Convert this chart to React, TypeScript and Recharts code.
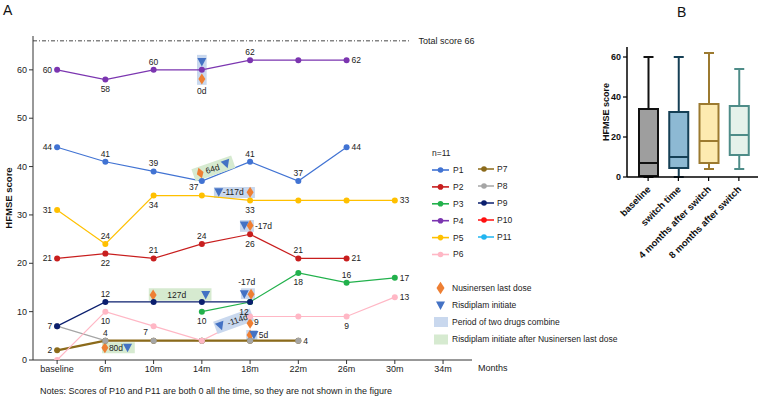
import React from 'react';
import {
  ComposedChart,
  Line,
  XAxis,
  YAxis,
  ReferenceArea,
  ReferenceDot,
  ReferenceLine,
  LabelList,
  Bar,
  Legend,
  Label,
} from 'recharts';

const FONT = '"Liberation Sans", Arial, Helvetica, sans-serif';
const TXT = '#222';
const DOSE_COLOR = '#ee7f33';
const RIS_COLOR = '#4472c4';
const OVERLAP_FILL = '#c9d8ee';
const GAP_FILL = '#d6ead0';

// ---- Panel A: HFMSE score per patient over visits ----
const months = ['baseline', '6m', '10m', '14m', '18m', '22m', '26m', '30m', '34m'];

const p1 = [44, 41, 39, 37, 41, 37, 44, null, null];
const p2 = [21, 22, 21, 24, 26, 21, 21, null, null];
const p3 = [null, null, null, 10, 12, 18, 16, 17, null];
const p4 = [60, 58, 60, 60, 62, 62, 62, null, null];
const p5 = [31, 24, 34, 34, 33, 33, 33, 33, null];
const p6 = [0, 10, 7, 4, 9, 9, 9, 13, null];
const p7 = [2, 4, 4, 4, 4, 4, null, null, null];
const p8 = [7, 4, 4, 4, 4, 4, null, null, null];
const p9 = [7, 12, 12, 12, 12, null, null, null, null];

const totalScore = 66;

// Nusinersen last dose markers (x = visit index, y = score)
const lastDoseMarks = [
  { x: 3.0, y: 58.1 },
  { x: 4.0, y: 34.7 },
  { x: 4.0, y: 27.8 },
  { x: 1.99, y: 13.45 },
  { x: 4.02, y: 13.6 },
  { x: 4.0, y: 7.6 },
  { x: 4.0, y: 5.17 },
  { x: 0.99, y: 2.55 },
];

// Risdiplam initiation markers
const risdiplamMarks = [
  { x: 3.0, y: 61.6 },
  { x: 3.35, y: 34.7 },
  { x: 3.88, y: 27.8 },
  { x: 3.08, y: 13.45 },
  { x: 3.88, y: 13.6 },
  { x: 4.08, y: 5.17 },
  { x: 1.46, y: 2.55 },
];

// Periods where both drugs overlapped
const overlapPeriods = [
  { x1: 2.9, x2: 3.1, y1: 56.9, y2: 63.1 },
  { x1: 3.25, x2: 4.1, y1: 33.5, y2: 35.8 },
  { x1: 3.79, x2: 4.08, y1: 26.5, y2: 28.95 },
  { x1: 3.81, x2: 4.1, y1: 12.6, y2: 14.83 },
  { x1: 3.92, x2: 4.15, y1: 4.1, y2: 6.2 },
];

// Risdiplam started after the last nusinersen dose
const gapPeriods = [
  { x1: 1.9, x2: 3.2, y1: 12.27, y2: 14.83 },
  { x1: 0.93, x2: 1.61, y1: 1.39, y2: 3.66 },
];

const dayLabels = [
  { x: 3.0, y: 55.6, text: '0d', anchor: 'middle' },
  { x: 3.65, y: 34.7, text: '-117d', anchor: 'middle' },
  { x: 4.1, y: 27.8, text: '-17d', anchor: 'start' },
  { x: 2.48, y: 13.45, text: '127d', anchor: 'middle' },
  { x: 3.93, y: 16.1, text: '-17d', anchor: 'middle' },
  { x: 4.18, y: 5.1, text: '5d', anchor: 'start' },
  { x: 1.22, y: 2.45, text: '80d', anchor: 'middle' },
];

// Slanted tags placed along a rising segment
const slantedTags = [
  { x: 3.24, y: 39.6, text: '64d', kind: 'gap', angle: -19 },
  { x: 3.66, y: 8.02, text: '-114d', kind: 'overlap', angle: -20 },
];

type Series = {
  key: string;
  color: string;
  values: (number | null)[];
  labels: (string | null)[];
  width?: number;
  dotsOnly?: boolean;
};

// P8's line sits under P7's thicker line; its dots are redrawn on top afterwards
const series: Series[] = [
  { key: 'P8', color: '#a5a5a5', values: p8, labels: [null, 't', null, null, null, 'r'] },
  { key: 'P7', color: '#8b6a1a', values: p7, labels: ['l'], width: 2.2 },
  { key: 'P8', color: '#a5a5a5', values: p8, labels: [], dotsOnly: true },
  { key: 'P1', color: '#4173d3', values: p1, labels: ['l', 't', 't', 'bl', 't', 't', 'r'] },
  { key: 'P2', color: '#c81e1e', values: p2, labels: ['l', 'b', 't', 't', 'b', 't', 'r'] },
  { key: 'P3', color: '#22b14c', values: p3, labels: [null, null, null, 'b', 'lb', 'b', 't', 'r'] },
  { key: 'P4', color: '#7b35b0', values: p4, labels: ['l', 'b', 't', null, 't', null, 'r'] },
  { key: 'P5', color: '#ffc000', values: p5, labels: ['l', 't', 'b', null, 'b', null, null, 'r'] },
  { key: 'P6', color: '#ffb7c5', values: p6, labels: [null, 'b', 'bl', null, 'rb', null, 'b', 'r'] },
  { key: 'P9', color: '#0b1f6e', values: p9, labels: ['l', 't'] },
];

const legendLeft = [
  { name: 'P1', color: '#4173d3' },
  { name: 'P2', color: '#c81e1e' },
  { name: 'P3', color: '#22b14c' },
  { name: 'P4', color: '#7b35b0' },
  { name: 'P5', color: '#ffc000' },
  { name: 'P6', color: '#ffb7c5' },
];
const legendRight = [
  { name: 'P7', color: '#8b6a1a' },
  { name: 'P8', color: '#a5a5a5' },
  { name: 'P9', color: '#0b1f6e' },
  { name: 'P10', color: '#ff1010' },
  { name: 'P11', color: '#22b5f0' },
];

const rows = months.map((m, i) => {
  const row: any = { idx: i, month: m };
  series.forEach((s) => {
    row[s.key] = s.values[i] ?? null;
  });
  return row;
});

const labelOffsets: Record<string, { dx: number; dy: number; anchor: string }> = {
  l: { dx: -5, dy: 3, anchor: 'end' },
  r: { dx: 5, dy: 3, anchor: 'start' },
  t: { dx: 0, dy: -5, anchor: 'middle' },
  b: { dx: 0, dy: 12.5, anchor: 'middle' },
  bl: { dx: -8, dy: 8.5, anchor: 'middle' },
  lb: { dx: -6, dy: 13, anchor: 'middle' },
  rb: { dx: 4, dy: 9, anchor: 'start' },
};

const makeLabel = (codes: (string | null)[]) => (props: any) => {
  const { x, y, value, index } = props;
  const code = codes[index];
  if (!code || value == null || x == null || y == null) return null;
  const o = labelOffsets[code];
  return (
    <text x={x + o.dx} y={y + o.dy} textAnchor={o.anchor} fontSize={8.5} fill={TXT} fontFamily={FONT}>
      {value}
    </text>
  );
};

const diamondPath = (cx: number, cy: number) =>
  `M${cx},${cy - 5.5} L${cx + 3.5},${cy} L${cx},${cy + 5.5} L${cx - 3.5},${cy} Z`;
const trianglePath = (cx: number, cy: number) =>
  `M${cx - 4.5},${cy - 4} L${cx + 4.5},${cy - 4} L${cx},${cy + 4.5} Z`;

const DoseShape = (p: any) => <path d={diamondPath(p.cx, p.cy)} fill={DOSE_COLOR} />;
const RisShape = (p: any) => <path d={trianglePath(p.cx, p.cy)} fill={RIS_COLOR} />;

const makeTextShape = (text: string, anchor: string, size = 8.5) => (p: any) => (
  <text x={p.cx} y={p.cy} dy="0.35em" textAnchor={anchor} fontSize={size} fill={TXT} fontFamily={FONT}>
    {text}
  </text>
);

const makeSlantedShape = (tag: (typeof slantedTags)[number]) => (p: any) => {
  const isGap = tag.kind === 'gap';
  const w = isGap ? 42 : 39;
  return (
    <g transform={`translate(${p.cx},${p.cy}) rotate(${tag.angle})`}>
      <rect x={-w / 2} y={-6.5} width={w} height={13} fill={isGap ? GAP_FILL : OVERLAP_FILL} />
      {isGap ? (
        <>
          <path d={diamondPath(-14, 0)} fill={DOSE_COLOR} />
          <text x={-1} y={0} dy="0.35em" textAnchor="middle" fontSize={8.5} fill={TXT} fontFamily={FONT}>
            {tag.text}
          </text>
          <path d={trianglePath(13.5, 0)} fill={RIS_COLOR} />
        </>
      ) : (
        <>
          <path d={trianglePath(-14, 0)} fill={RIS_COLOR} />
          <text x={4} y={0} dy="0.35em" textAnchor="middle" fontSize={8.5} fill={TXT} fontFamily={FONT}>
            {tag.text}
          </text>
        </>
      )}
    </g>
  );
};

const YTitleA = (props: any) => {
  const vb = props.viewBox || { x: 8, y: 36, height: 324 };
  const cx = vb.x + 3.5;
  const cy = vb.y + vb.height / 2;
  return (
    <text
      x={cx}
      y={cy}
      transform={`rotate(-90, ${cx}, ${cy})`}
      textAnchor="middle"
      fontSize={9.5}
      fontWeight={700}
      fill="#111"
      fontFamily={FONT}
    >
      HFMSE score
    </text>
  );
};

const LegendA = () => (
  <svg width={640} height={397} style={{ position: 'absolute', left: 0, top: 0, overflow: 'visible' }}>
    <text x={432} y={156} fontSize={8.5} fill={TXT} fontFamily={FONT}>
      n=11
    </text>
    {legendLeft.map((e, i) => {
      const y = 170 + i * 16.9;
      return (
        <g key={e.name}>
          <line x1={432} x2={449} y1={y} y2={y} stroke={e.color} strokeWidth={1.6} />
          <circle cx={440.5} cy={y} r={2.8} fill={e.color} />
          <text x={453} y={y} dy="0.35em" fontSize={8.5} fill={TXT} fontFamily={FONT}>
            {e.name}
          </text>
        </g>
      );
    })}
    {legendRight.map((e, i) => {
      const y = 169 + i * 17;
      return (
        <g key={e.name}>
          <line x1={478} x2={494} y1={y} y2={y} stroke={e.color} strokeWidth={2} strokeOpacity={0.75} />
          <circle cx={484} cy={y} r={2.8} fill={e.color} />
          <text x={497} y={y} dy="0.35em" fontSize={8.5} fill={TXT} fontFamily={FONT}>
            {e.name}
          </text>
        </g>
      );
    })}
    <path d={diamondPath(440.5, 288)} fill={DOSE_COLOR} transform="translate(440.5,288) scale(1.15) translate(-440.5,-288)" />
    <text x={452} y={288} dy="0.35em" fontSize={8.5} fill={TXT} fontFamily={FONT}>
      Nusinersen last dose
    </text>
    <path d={trianglePath(440.5, 305.5)} fill={RIS_COLOR} />
    <text x={452} y={305.5} dy="0.35em" fontSize={8.5} fill={TXT} fontFamily={FONT}>
      Risdiplam initiate
    </text>
    <rect x={434} y={317} width={14} height={10} fill={OVERLAP_FILL} />
    <text x={452} y={322} dy="0.35em" fontSize={8.5} fill={TXT} fontFamily={FONT}>
      Period of two drugs combine
    </text>
    <rect x={434} y={334.5} width={14} height={10} fill={GAP_FILL} />
    <text x={452} y={339.5} dy="0.35em" fontSize={8.5} fill={TXT} fontFamily={FONT}>
      Risdiplam initiate after Nusinersen last dose
    </text>
  </svg>
);

// ---- Panel B: HFMSE score distribution around the switch ----
const boxGroups = ['baseline', 'switch time', '4 months after switch', '8 months after switch'];
const boxMin = [0, 0, 4, 4];
const boxQ1 = [0.5, 4.5, 7, 11];
const boxMedian = [7, 10, 18, 21];
const boxQ3 = [34, 32.5, 36.5, 35.5];
const boxMax = [60, 60, 62, 54];

const boxFill = ['#9e9e9e', '#8db9d3', '#fdeab0', '#e5f1ea'];
const boxStroke = ['#111111', '#153f55', '#9c7a30', '#4e8c88'];

const boxRows = boxGroups.map((g, i) => ({
  group: g,
  range: [boxMin[i], boxMax[i]],
  min: boxMin[i],
  q1: boxQ1[i],
  median: boxMedian[i],
  q3: boxQ3[i],
  max: boxMax[i],
  fill: boxFill[i],
  stroke: boxStroke[i],
}));

const BoxShape = (props: any) => {
  const { x, y, width, height, payload } = props;
  if (x == null || y == null || !payload) return null;
  const { min, q1, median, q3, max, fill, stroke } = payload;
  const span = max - min || 1;
  const py = (v: number) => y + (height * (max - v)) / span;
  const cx = x + width / 2;
  const cap = 5;
  return (
    <g>
      <line x1={cx} x2={cx} y1={py(max)} y2={py(q3)} stroke={stroke} strokeWidth={2} />
      <line x1={cx} x2={cx} y1={py(q1)} y2={py(min)} stroke={stroke} strokeWidth={2} />
      <line x1={cx - cap} x2={cx + cap} y1={py(max)} y2={py(max)} stroke={stroke} strokeWidth={2} />
      <line x1={cx - cap} x2={cx + cap} y1={py(min)} y2={py(min)} stroke={stroke} strokeWidth={2} />
      <rect x={x} y={py(q3)} width={width} height={py(q1) - py(q3)} fill={fill} stroke={stroke} strokeWidth={2} />
      <line x1={x} x2={x + width} y1={py(median)} y2={py(median)} stroke={stroke} strokeWidth={2} />
    </g>
  );
};

const BoxTick = (props: any) => {
  const { x, y, payload } = props;
  return (
    <text
      transform={`translate(${x + 3},${y + 7}) rotate(-45)`}
      textAnchor="end"
      fontSize={9.5}
      fontWeight={700}
      fill="#111"
      fontFamily={FONT}
    >
      {payload.value}
    </text>
  );
};

const YTitleB = (props: any) => {
  const vb = props.viewBox || { x: 5, y: 47, height: 130 };
  const cx = vb.x + 4;
  const cy = vb.y + vb.height / 2;
  return (
    <text
      x={cx}
      y={cy}
      transform={`rotate(-90, ${cx}, ${cy})`}
      textAnchor="middle"
      fontSize={9}
      fontWeight={700}
      fill="#111"
      fontFamily={FONT}
    >
      HFMSE score
    </text>
  );
};

export default function App() {
  return (
    <div style={{ position: 'absolute', left: 0, top: 0, width: 760, height: 397, background: '#fff', fontFamily: FONT }}>
      <div style={{ position: 'absolute', left: 0, top: 0 }}>
        <ComposedChart width={640} height={397} data={rows} margin={{ top: 36, right: 168, bottom: 17, left: 8 }}>
          <XAxis
            type="number"
            dataKey="idx"
            domain={[-0.5, 8.6]}
            ticks={[0, 1, 2, 3, 4, 5, 6, 7, 8]}
            tickFormatter={(v: number) => months[v]}
            interval={0}
            height={20}
            tickSize={4}
            tickMargin={2}
            allowDataOverflow
            axisLine={{ stroke: '#333' }}
            tickLine={{ stroke: '#333' }}
            tick={{ fontSize: 9, fill: TXT, fontFamily: FONT }}
          />
          <YAxis
            type="number"
            domain={[0, 67]}
            ticks={[0, 10, 20, 30, 40, 50, 60]}
            width={25}
            tickSize={4}
            tickMargin={2}
            allowDataOverflow
            axisLine={{ stroke: '#333' }}
            tickLine={{ stroke: '#333' }}
            tick={{ fontSize: 9, fill: TXT, fontFamily: FONT }}
          >
            <Label content={<YTitleA />} />
          </YAxis>

          {overlapPeriods.map((r, i) => (
            <ReferenceArea key={'ov' + i} x1={r.x1} x2={r.x2} y1={r.y1} y2={r.y2} fill={OVERLAP_FILL} fillOpacity={1} stroke="none" />
          ))}
          {gapPeriods.map((r, i) => (
            <ReferenceArea key={'gp' + i} x1={r.x1} x2={r.x2} y1={r.y1} y2={r.y2} fill={GAP_FILL} fillOpacity={1} stroke="none" />
          ))}

          <ReferenceLine
            segment={[
              { x: -0.5, y: totalScore },
              { x: 7.31, y: totalScore },
            ]}
            stroke="#333"
            strokeWidth={0.9}
            strokeDasharray="4 2 1 2"
          />
          <ReferenceDot x={7.49} y={totalScore} r={1} shape={makeTextShape('Total score 66', 'start', 9)} />

          {series.map((s, i) => (
            <Line
              key={s.key + i}
              dataKey={s.key}
              type="linear"
              stroke={s.dotsOnly ? 'none' : s.color}
              strokeWidth={s.width ?? 1.2}
              dot={{ r: 3, fill: s.color, stroke: s.color, strokeWidth: 0 }}
              activeDot={false}
              connectNulls={false}
              isAnimationActive={false}
              legendType="none"
            >
              <LabelList dataKey={s.key} content={makeLabel(s.labels)} />
            </Line>
          ))}

          {slantedTags.map((t, i) => (
            <ReferenceDot key={'sl' + i} x={t.x} y={t.y} r={1} shape={makeSlantedShape(t)} />
          ))}
          {lastDoseMarks.map((m, i) => (
            <ReferenceDot key={'ld' + i} x={m.x} y={m.y} r={4} shape={DoseShape} />
          ))}
          {risdiplamMarks.map((m, i) => (
            <ReferenceDot key={'rs' + i} x={m.x} y={m.y} r={4} shape={RisShape} />
          ))}
          {dayLabels.map((d, i) => (
            <ReferenceDot key={'dl' + i} x={d.x} y={d.y} r={1} shape={makeTextShape(d.text, d.anchor)} />
          ))}

          <Legend
            layout="vertical"
            align="center"
            verticalAlign="middle"
            wrapperStyle={{ left: 0, top: 0, width: 640, height: 397, pointerEvents: 'none' }}
            content={() => <LegendA />}
          />
        </ComposedChart>
      </div>

      <div style={{ position: 'absolute', left: 600, top: 0 }}>
        <ComposedChart width={160} height={397} data={boxRows} margin={{ top: 47, right: 2, bottom: 120, left: 5 }}>
          <XAxis
            dataKey="group"
            type="category"
            padding={{ left: 6, right: 4 }}
            height={100}
            tickSize={4}
            interval={0}
            tick={<BoxTick />}
            axisLine={{ stroke: '#000', strokeWidth: 1.5 }}
            tickLine={{ stroke: '#000', strokeWidth: 1.2 }}
          />
          <YAxis
            type="number"
            domain={[0, 65]}
            ticks={[0, 20, 40, 60]}
            width={22}
            tickSize={4}
            tickMargin={2}
            axisLine={{ stroke: '#000', strokeWidth: 1.5 }}
            tickLine={{ stroke: '#000', strokeWidth: 1.2 }}
            tick={{ fontSize: 9, fontWeight: 700, fill: '#111', fontFamily: FONT }}
          >
            <Label content={<YTitleB />} />
          </YAxis>
          <Bar dataKey="range" barSize={19} shape={<BoxShape />} isAnimationActive={false} />
        </ComposedChart>
      </div>

      <svg width={760} height={397} style={{ position: 'absolute', left: 0, top: 0, pointerEvents: 'none' }}>
        <text x={3} y={15} fontSize={14} fill="#111" fontFamily={FONT}>
          A
        </text>
        <text x={677} y={17} fontSize={14} fill="#111" fontFamily={FONT}>
          B
        </text>
        <text x={478} y={371} fontSize={9} fill={TXT} fontFamily={FONT}>
          Months
        </text>
        <text x={40} y={394} fontSize={9} fill={TXT} fontFamily={FONT}>
          Notes: Scores of P10 and P11 are both 0 all the time, so they are not shown in the figure
        </text>
      </svg>
    </div>
  );
}
